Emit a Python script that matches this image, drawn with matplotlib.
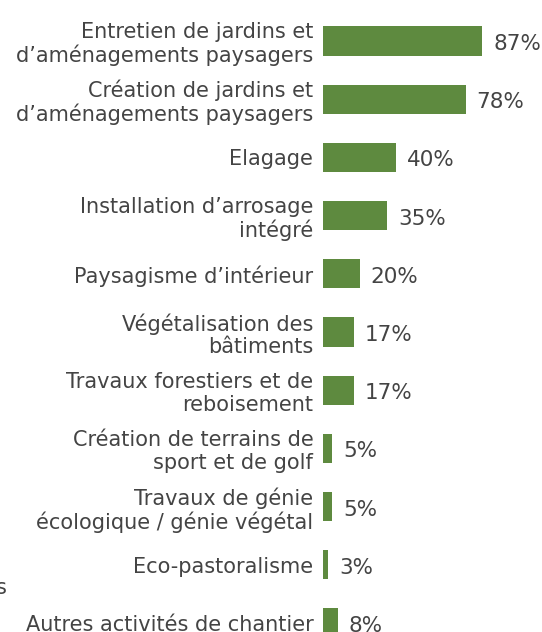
import matplotlib.pyplot as plt

categories = [
    "Entretien de jardins et\nd’aménagements paysagers",
    "Création de jardins et\nd’aménagements paysagers",
    "Elagage",
    "Installation d’arrosage\nintégré",
    "Paysagisme d’intérieur",
    "Végétalisation des\nbâtiments",
    "Travaux forestiers et de\nreboisement",
    "Création de terrains de\nsport et de golf",
    "Travaux de génie\nécologique / génie végétal",
    "Eco-pastoralisme",
    "Autres activités de chantier",
]
values = [87, 78, 40, 35, 20, 17, 17, 5, 5, 3, 8]

GREEN = "#5e8a3f"
TEXT = "#444444"

plt.rcParams['font.family'] = ['DejaVu Sans']

fig = plt.figure(figsize=(5.42, 6.32), dpi=100)
ax = fig.add_axes([323 / 542, 0, 219 / 542, 1])

pos = list(range(len(values)))
ax.barh(pos, values, height=0.5, color=GREEN)

ax.set_xlim(0, 219 / 1.83)
ax.set_ylim((632 - 41) / 58.2, -41 / 58.2)

ax.set_yticks(pos)
ax.set_yticklabels(categories, fontsize=15, color=TEXT, linespacing=1.15)
ax.tick_params(axis='y', length=0, pad=7)
ax.set_xticks([])
for s in ax.spines.values():
    s.set_visible(False)

for i, v in enumerate(values):
    ax.text(v + 6, i + 0.05, f"{v}%", va='center', ha='left', fontsize=15.5, color=TEXT)

# partially cut-off text at the far left edge
fig.text(-0.008, 1 - 588 / 632, "s", fontsize=15, color=TEXT, va='center', ha='left')

fig.savefig("out.png", dpi=100)
